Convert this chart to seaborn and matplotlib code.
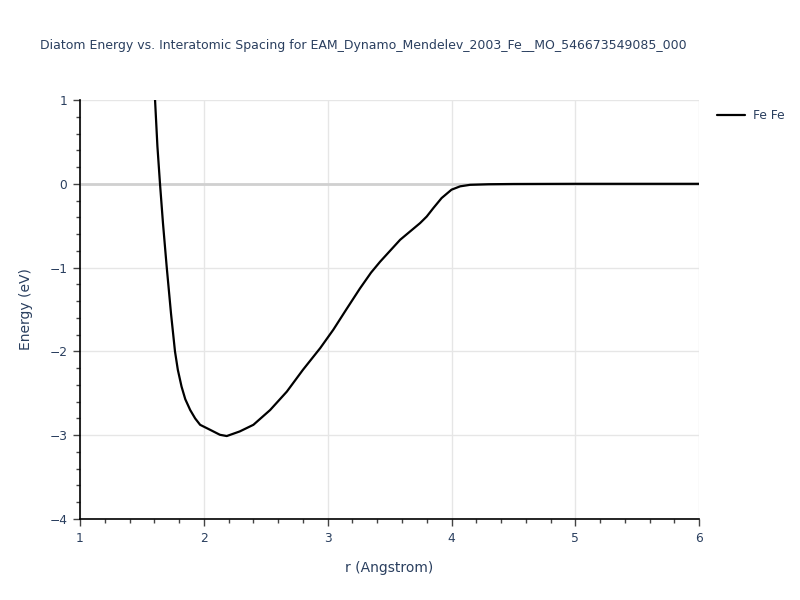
import matplotlib
matplotlib.use("Agg")
import matplotlib.pyplot as plt
from matplotlib.ticker import MultipleLocator
import seaborn as sns
import pandas as pd

r_vals = [1.60, 1.606, 1.625, 1.646, 1.67, 1.70, 1.735, 1.767, 1.79, 1.82, 1.85, 1.89, 1.93, 1.97,
          2.05, 2.13, 2.185, 2.29, 2.40, 2.535, 2.67, 2.80, 2.94, 3.046, 3.15, 3.26, 3.35, 3.423, 3.585,
          3.746, 3.80, 3.853, 3.92, 4.00, 4.07, 4.15, 4.30, 4.50, 5.00, 6.00]
energy = [1.12, 1.0, 0.45, 0.0, -0.47, -0.99, -1.55, -2.0, -2.22, -2.42, -2.57, -2.70, -2.80, -2.876,
          -2.935, -2.995, -3.01, -2.955, -2.876, -2.70, -2.48, -2.22, -1.96, -1.74, -1.50, -1.25, -1.06, -0.93, -0.668,
          -0.469, -0.39, -0.29, -0.17, -0.07, -0.03, -0.012, -0.005, -0.002, 0.0, 0.0]
series_name = "Fe Fe"
title = "Diatom Energy vs. Interatomic Spacing for EAM_Dynamo_Mendelev_2003_Fe__MO_546673549085_000"

df = pd.DataFrame({"r": r_vals, "E": energy, "pair": series_name})

sns.set_style("white")
plt.rcParams["font.family"] = ["DejaVu Sans"]
txt = "#2a3f5f"

fig = plt.figure(figsize=(8, 6), dpi=100)
ax = fig.add_axes([0.1, 0.135, 0.774, 0.6983])

sns.lineplot(data=df, x="r", y="E", hue="pair", palette=["black"], ax=ax,
             linewidth=1.6, sort=False, legend=True, zorder=3)

ax.set_xlim(1, 6)
ax.set_ylim(-4, 1)
ax.xaxis.set_major_locator(MultipleLocator(1))
ax.xaxis.set_minor_locator(MultipleLocator(0.2))
ax.yaxis.set_major_locator(MultipleLocator(1))
ax.yaxis.set_minor_locator(MultipleLocator(0.2))

ax.grid(True, which="major", color="#e6e6e6", linewidth=1, zorder=0)
ax.axhline(0, color="#d0d0d0", linewidth=2, zorder=1)

for s in ["top", "right"]:
    ax.spines[s].set_visible(False)
for s in ["left", "bottom"]:
    ax.spines[s].set_color("black")
    ax.spines[s].set_linewidth(1.2)

ax.tick_params(axis="both", which="major", direction="out", length=5, width=1,
               color="#444444", labelcolor=txt, labelsize=8.8, pad=4, left=True, bottom=True)
ax.tick_params(axis="both", which="minor", direction="out", length=3, width=1,
               color="#444444", left=True, bottom=True)

ax.set_yticks([1, 0, -1, -2, -3, -4])
ax.set_yticklabels(["1", "0", "\u22121", "\u22122", "\u22123", "\u22124"])

ax.set_xlabel("r (Angstrom)", color=txt, fontsize=10, labelpad=12)
ax.set_ylabel("Energy (eV)", color=txt, fontsize=10, labelpad=12)

fig.text(0.05, 0.925, title, color=txt, fontsize=9.0, ha="left", va="center")

handles, labels = ax.get_legend_handles_labels()
leg = ax.legend(handles, labels, loc="upper left", bbox_to_anchor=(1.021, 0.99),
                frameon=False, fontsize=8.8, handlelength=2.3, handletextpad=0.6,
                borderaxespad=0)
for t in leg.get_texts():
    t.set_color(txt)

fig.savefig("out.png", dpi=100)
